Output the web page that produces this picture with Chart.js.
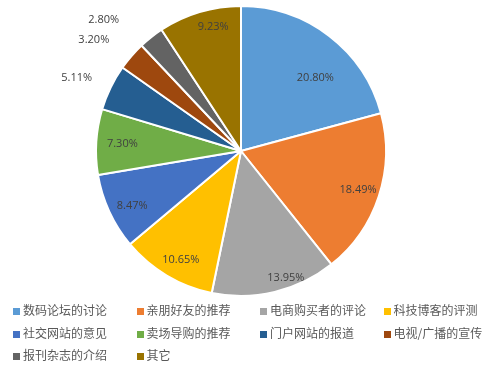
<!DOCTYPE html>
<html>
<head>
<meta charset="utf-8">
<script src="https://cdn.jsdelivr.net/npm/chart.js@4/dist/chart.umd.min.js"></script>
<style>
  body { margin: 0; background: #fff; }
  #wrap { position: relative; width: 501px; height: 370px; }
  #legend { position: absolute; left: 0; top: 299px; width: 501px;
            font-family: "Noto Sans CJK SC", sans-serif; font-size: 12px; color: #595959; }
  .item { position: absolute; height: 22px; line-height: 22px; white-space: nowrap; }
  .item i { display: inline-block; width: 7px; height: 7px; margin-right: 3px; vertical-align: 0px; }
</style>
</head>
<body>
<div id="wrap">
  <canvas id="myChart" width="501" height="370"></canvas>
  <div id="legend"></div>
</div>
<script>
var categories = ['数码论坛的讨论','亲朋好友的推荐','电商购买者的评论','科技博客的评测',
                  '社交网站的意见','卖场导购的推荐','门户网站的报道','电视/广播的宣传',
                  '报刊杂志的介绍','其它'];
var shares = [20.80, 18.49, 13.95, 10.65, 8.47, 7.30, 5.11, 3.20, 2.80, 9.23];
var colors = ['#5B9BD5','#ED7D31','#A5A5A5','#FFC000','#4472C4',
              '#70AD47','#255E91','#9E480E','#636363','#997300'];

// label placement: radius factor and angle nudge (degrees)
var labelPos = [
    {r: 0.72, da: 8}, {r: 0.85, da: 0}, {r: 0.93, da: -6}, {r: 0.86, da: -2}, {r: 0.84, da: -2},
    {r: 0.82, da: 0}, {r: 1.24, da: -2}, {r: 1.27, da: -4}, {r: 1.31, da: -8}, {r: 0.88, da: 4}
];

var pieLabels = {
    id: 'pieLabels',
    afterDatasetsDraw: function(chart) {
        var ctx = chart.ctx;
        var meta = chart.getDatasetMeta(0);
        ctx.save();
        ctx.font = '11px "Open Sans", sans-serif';
        ctx.fillStyle = '#404040';
        ctx.textAlign = 'center';
        ctx.textBaseline = 'middle';
        meta.data.forEach(function(arc, i) {
            var p = arc.getProps(['x','y','startAngle','endAngle','outerRadius'], true);
            var a = (p.startAngle + p.endAngle) / 2 + labelPos[i].da * Math.PI / 180;
            var r = p.outerRadius * labelPos[i].r;
            ctx.fillText(shares[i].toFixed(2) + '%', p.x + r * Math.cos(a), p.y + r * Math.sin(a));
        });
        ctx.restore();
    }
};

var ctx = document.getElementById('myChart').getContext('2d');
var myChart = new Chart(ctx, {
    type: 'pie',
    data: {
        labels: categories,
        datasets: [{
            data: shares,
            backgroundColor: colors,
            borderColor: '#ffffff',
            borderWidth: 2,
            hoverOffset: 0
        }]
    },
    options: {
        responsive: false,
        animation: false,
        layout: { padding: { top: 5, bottom: 73, left: 0, right: 19 } },
        plugins: {
            legend: { display: false },
            tooltip: { enabled: false }
        }
    },
    plugins: [pieLabels]
});

var legend = document.getElementById('legend');
categories.forEach(function(name, i) {
    var d = document.createElement('div');
    d.className = 'item';
    d.style.left = (13 + (i % 4) * 123.5) + 'px';
    d.style.top = (Math.floor(i / 4) * 22.5) + 'px';
    d.innerHTML = '<i style="background:' + colors[i] + '"></i>' + name;
    legend.appendChild(d);
});
</script>
</body>
</html>
